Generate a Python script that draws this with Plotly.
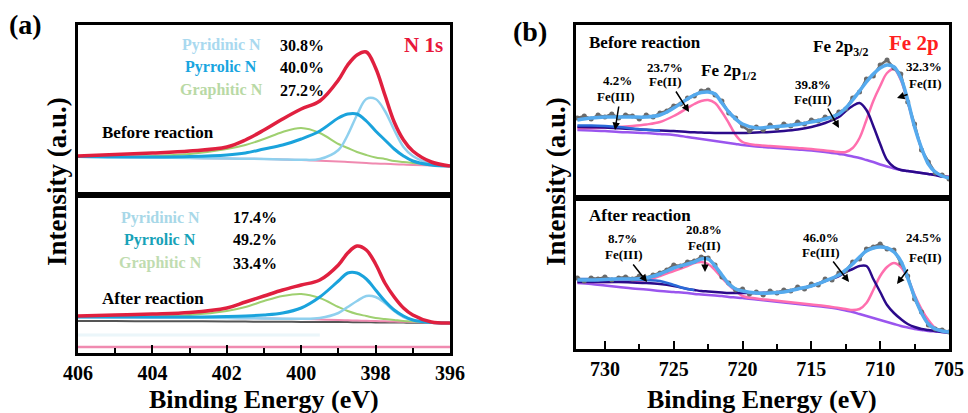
import plotly.graph_objects as go

# ---------------- data : panel (a) N 1s ----------------
e_n = [406, 405, 404, 403, 402, 401.5, 401, 400.5, 400, 399.5, 399, 398.75,
       398.5, 398.25, 398, 397.75, 397.5, 397.25, 397, 396.5, 396]

n_bef_env = [39, 40.5, 42, 44, 48, 55, 65, 76, 86, 94, 115, 130, 140, 143, 127,
             100, 73, 55, 44, 33, 29]
n_bef_bg = [38.5, 38, 37.5, 37, 36.5, 36.3, 36, 35.5, 35, 34.3, 33.5, 33, 32.5,
            32, 31.5, 31.2, 30.8, 30.4, 30, 29.5, 29]
n_bef_grap = [38.5, 38.5, 39, 41, 46, 50, 56, 63, 67, 62, 51, 47, 43, 40, 37.5,
              36, 34, 33, 32, 30, 29]
n_bef_pyrr = [38.5, 38, 38, 38.5, 40, 42, 46, 50, 56, 64, 77, 81, 81, 74, 64, 55,
              46, 39, 34, 30, 29]
n_bef_pyrid = [38.5, 38, 37.5, 37, 36.5, 36.3, 36, 35.5, 35.2, 36, 45, 60, 80, 96,
               96, 84, 65, 48, 39, 31, 29]

n_aft_env = [37, 38, 39, 40.5, 45, 51, 57, 63, 68, 73, 88, 100, 107, 103, 89, 70,
             56, 45, 38, 31, 30]
n_aft_bg = [36, 35.8, 35.5, 35.3, 35, 34.8, 34.5, 34.3, 34, 33.5, 33, 32.7, 32.5,
            32.2, 32, 31.7, 31.5, 31.2, 31, 30.5, 30]
n_aft_grap = [36, 36, 36.5, 38, 42, 46, 52, 57, 59, 55, 46, 42, 39, 37, 35, 34, 33,
              32, 31.5, 30.5, 30]
n_aft_pyrr = [36, 36, 36, 36, 36.5, 37, 38, 40, 45, 56, 72, 80, 80, 74, 63, 52, 43,
              37, 33, 30.5, 30]
n_aft_pyrid = [36, 35.8, 35.5, 35.3, 35, 34.8, 34.5, 34.3, 34.2, 35, 40, 46, 52,
               57, 56, 50, 42, 36, 33, 30.5, 30]
n_aft_gray = [32, 31.9, 31.8, 31.7, 31.5, 31.4, 31.3, 31.2, 31.1, 31, 31, 30.9,
              30.8, 30.7, 30.6, 30.5, 30.5, 30.4, 30.3, 30.1, 30]
n_aft_base = [6] * len(e_n)
n_aft_faint = [18] * 10

n_labels = ["Pyridinic N", "Pyrrolic N", "Graphitic N"]
n_bef_pct = ["30.8%", "40.0%", "27.2%"]
n_aft_pct = ["17.4%", "49.2%", "33.4%"]

# ---------------- data : panel (b) Fe 2p ----------------
e_fe = [732, 731, 730, 729, 728, 727, 726, 725, 724, 723.5, 723, 722.5, 722,
        721.5, 721, 720.5, 720, 719, 718, 717, 716, 715, 714, 713, 712.5, 712,
        711.5, 711, 710.5, 710, 709.5, 709, 708.5, 708, 707.5, 707, 706.5, 706,
        705.5, 705]

fe_bef_env = [78, 80, 81, 81, 81, 81, 83, 90, 99, 103, 105.5, 106, 104, 95, 86,
              79, 74, 70, 71, 72, 73.5, 76, 79, 84, 90, 98, 107, 116, 124, 130,
              133, 131, 120, 98, 71, 50, 34, 26, 22, 20]
fe_bef_bg = [68, 67.5, 67, 66, 65.5, 65, 64, 63, 61, 60, 59, 58, 57, 56, 55, 54,
             53, 51.5, 50.5, 49.5, 48.5, 47.5, 46, 44, 43, 41.5, 40, 38, 36, 33.5,
             31.5, 29.5, 28, 27, 26, 25, 24, 23, 21.5, 21]
fe_bef_fe2 = [70, 70, 70.5, 71, 72, 73.5, 76, 82, 90, 94, 97, 98, 95, 86, 75, 63,
              56, 53, 52, 51, 50, 49, 47.5, 46, 46, 50, 60, 78, 97, 112, 125, 129,
              118, 96, 71, 50, 35, 26, 22, 21]
fe_bef_fe3 = [71, 70.7, 70.5, 69.7, 69, 68.2, 67.5, 67, 66, 65.7, 65.5, 65.2, 65,
              65, 65, 65, 65, 65.5, 66, 67, 68.5, 71, 75, 81, 87, 92, 95, 88, 72,
              54, 38, 31, 28, 27, 26, 25, 24, 23, 21.5, 21]
fe_bef_fe3b = [72.5, 72.5, 72, 71, 69.5, 68.2, 67.5]
fe_bef_raw_e = [732 - 0.5 * i for i in range(55)]
fe_bef_raw = [80, 82, 79, 83, 81, 84, 80, 83, 82, 79, 83, 81, 85, 87, 92, 94, 100,
              102, 107, 108, 103, 97, 85, 80, 72, 67, 71, 68, 73, 70, 74, 72, 76,
              74, 78, 77, 81, 80, 86, 89, 100, 106, 119, 122, 133, 138, 130, 124,
              96, 74, 48, 36, 25, 23, 19]

fe_aft_env = [69, 69, 69.5, 70, 70, 71, 75, 81, 85, 87, 90, 90, 83, 74, 65, 60,
              58, 56, 56, 57, 60, 63, 68, 74, 79, 85, 92, 98, 101, 102, 101, 97,
              88, 71, 52, 36, 25, 20, 18, 17]
fe_aft_bg = [66, 65, 63.5, 62, 60.5, 59.5, 58, 57, 56, 55, 54.5, 54, 53.5, 53, 52,
             51.5, 51, 49.5, 48, 46.5, 45, 43.5, 42, 40, 38.5, 37, 35, 33, 31, 29,
             27, 25, 23, 21.5, 20, 19, 18, 17.5, 17, 16.5]
fe_aft_fe2 = [67, 67, 67, 67.5, 68, 69, 73, 78, 83, 86, 87, 85, 79, 71, 64, 58,
              53, 50.5, 49, 47.5, 46, 44.5, 43, 41, 40, 39, 40, 46, 59, 73, 82, 86,
              82, 71, 54, 40, 29, 21, 18, 17]
fe_aft_fe3 = [67, 67, 67, 67, 66.5, 66, 65, 63, 60, 59, 58, 57.5, 57, 56.5, 56,
              56, 56, 56, 56.5, 57.5, 60, 63, 68, 73, 77, 80, 83, 83, 70, 57, 44,
              36, 30, 25, 22, 20, 19, 18, 17, 16.5]
fe_aft_fe3b = [70, 70, 70, 70, 69.5, 69, 68, 64, 60, 59]
fe_aft_raw_e = [732 - 0.5 * i for i in range(55)]
fe_aft_raw = [71, 68, 71, 70, 72, 69, 71, 72, 70, 73, 71, 74, 76, 79, 84, 83, 87,
              88, 92, 91, 84, 72, 66, 59, 60, 55, 57, 54, 58, 56, 59, 58, 62, 60,
              65, 64, 70, 69, 76, 78, 87, 90, 100, 102, 105, 100, 99, 86, 73, 50,
              37, 24, 20, 19, 17]

n_ticks = [406, 404, 402, 400, 398, 396]
fe_ticks = [730, 725, 720, 715, 710, 705]

# ---------------- figure ----------------
W, H = 968, 413
def px(x):
    return x / W
def py(y):
    return 1 - y / H

SERIF = "Liberation Serif"
fig = go.Figure()

def line(x, y, color, width, xa, ya, opacity=1.0):
    fig.add_trace(go.Scatter(x=x, y=y, mode="lines", xaxis=xa, yaxis=ya,
                             line=dict(color=color, width=width, shape="spline", smoothing=1.0),
                             opacity=opacity, showlegend=False, hoverinfo="skip"))

C_RED = "#e0203f"; C_PYRID = "#8fd0ee"; C_PYRR = "#1aa3dc"; C_GRAP = "#9fd070"; C_BGP = "#f08ab0"
# (a) top
line(e_n, n_bef_bg, C_BGP, 2, "x", "y")
line(e_n, n_bef_grap, C_GRAP, 2, "x", "y")
line(e_n, n_bef_pyrid, C_PYRID, 2.5, "x", "y")
line(e_n, n_bef_pyrr, C_PYRR, 3, "x", "y")
line(e_n, n_bef_env, C_RED, 3.5, "x", "y")
# (a) bottom
line(e_n, n_aft_base, C_BGP, 2.5, "x2", "y2")
line(e_n[:len(n_aft_faint)], n_aft_faint, "#d8eef6", 3, "x2", "y2", opacity=0.5)
line(e_n, n_aft_gray, "#555555", 2, "x2", "y2")
line(e_n, n_aft_bg, C_BGP, 2, "x2", "y2")
line(e_n, n_aft_grap, C_GRAP, 2, "x2", "y2")
line(e_n, n_aft_pyrid, C_PYRID, 2.5, "x2", "y2")
line(e_n, n_aft_pyrr, C_PYRR, 3, "x2", "y2")
line(e_n, n_aft_env, C_RED, 3.5, "x2", "y2")

C_ENV = "#55aaee"; C_FE2 = "#ff6fae"; C_FE3 = "#2b0a8a"; C_BGV = "#9a55ee"; C_FE3B = "#2a6ad8"; C_RAW = "#6a6a6a"
for (env, bg, f2, f3, f3b, re, rv, xa, ya) in [
        (fe_bef_env, fe_bef_bg, fe_bef_fe2, fe_bef_fe3, fe_bef_fe3b, fe_bef_raw_e, fe_bef_raw, "x3", "y3"),
        (fe_aft_env, fe_aft_bg, fe_aft_fe2, fe_aft_fe3, fe_aft_fe3b, fe_aft_raw_e, fe_aft_raw, "x4", "y4")]:
    line(e_fe, bg, C_BGV, 2.5, xa, ya)
    line(e_fe, f2, C_FE2, 2.5, xa, ya)
    line(e_fe, f3, C_FE3, 2.5, xa, ya)
    line(e_fe[:len(f3b)], f3b, C_FE3B, 2.5, xa, ya)
    fig.add_trace(go.Scatter(x=re, y=rv, mode="lines+markers", xaxis=xa, yaxis=ya,
                             line=dict(color=C_RAW, width=2.5),
                             marker=dict(color=C_RAW, size=5),
                             showlegend=False, hoverinfo="skip"))
    line(e_fe, env, C_ENV, 3.5, xa, ya)

# ---------------- axes ----------------
frame = dict(showline=True, mirror=True, linecolor="black", linewidth=3,
             showgrid=False, zeroline=False, automargin=False)
tickfont = dict(family=SERIF, size=20, color="black")

xa_dom = [px(78), px(450)]
xb_dom = [px(576), px(949)]
layout = dict(
    xaxis=dict(domain=xa_dom, range=[406, 396], anchor="y", showticklabels=False, ticks="", **frame),
    yaxis=dict(domain=[py(195), py(25)], range=[0, 170], anchor="x", showticklabels=False, ticks="", **frame),
    xaxis2=dict(domain=xa_dom, range=[406, 396], anchor="y2", tickvals=n_ticks,
                ticktext=["<b>%d</b>" % v for v in n_ticks], ticks="inside", ticklen=8, tickwidth=2,
                tickcolor="black", tickfont=tickfont,
                minor=dict(dtick=1, ticks="inside", ticklen=5, tickwidth=2, tickcolor="black"),
                **frame),
    yaxis2=dict(domain=[py(353), py(195)], range=[0, 158], anchor="x2", showticklabels=False, ticks="", **frame),
    xaxis3=dict(domain=xb_dom, range=[732.1, 705], anchor="y3", showticklabels=False, ticks="", **frame),
    yaxis3=dict(domain=[py(198), py(25)], range=[0, 173], anchor="x3", showticklabels=False, ticks="", **frame),
    xaxis4=dict(domain=xb_dom, range=[732.1, 705], anchor="y4", tickvals=fe_ticks,
                ticktext=["<b>%d</b>" % v for v in fe_ticks], ticks="inside", ticklen=8, tickwidth=2,
                tickcolor="black", tickfont=tickfont,
                minor=dict(dtick=2.5, ticks="inside", ticklen=5, tickwidth=2, tickcolor="black"),
                **frame),
    yaxis4=dict(domain=[py(349), py(198)], range=[0, 151], anchor="x4", showticklabels=False, ticks="", **frame),
)
fig.update_layout(**layout)

ann = []
def text(x, y, s, size=15, color="black", xanchor="center", angle=0):
    ann.append(dict(x=px(x), y=py(y), xref="paper", yref="paper", text="<b>" + s + "</b>",
                    showarrow=False, xanchor=xanchor, yanchor="middle", textangle=angle,
                    font=dict(family=SERIF, size=size, color=color)))

def arrow(hx, hy, tx, ty):
    ann.append(dict(x=px(hx), y=py(hy), xref="paper", yref="paper", text="", showarrow=True,
                    ax=tx - hx, ay=ty - hy, arrowhead=2, arrowsize=1, arrowwidth=1.5,
                    arrowcolor="black"))

# panel labels and titles
text(25, 25, "(a)", size=28)
text(530, 31, "(b)", size=28)
text(264, 399, "Binding Energy (eV)", size=26)
text(762, 399, "Binding Energy (eV)", size=26)
text(57, 182, "Intensity (a.u.)", size=27, angle=-90)
text(556, 182, "Intensity (a.u.)", size=27, angle=-90)

# (a)
lab_cols_top = ["#a9d9ef", "#18a5e0", "#b9d9a5"]
lab_cols_bot = ["#a8d8e8", "#17a2b8", "#c0dcb0"]
for i, yy in enumerate([45, 67, 90]):
    text(221, yy, n_labels[i], size=16, color=lab_cols_top[i])
    text(302, yy, n_bef_pct[i], size=16)
for i, yy in enumerate([218, 240, 263]):
    text(160, yy, n_labels[i], size=16, color=lab_cols_bot[i])
    text(255, yy, n_aft_pct[i], size=16)
text(423, 45, "N 1s", size=21, color="#e8173a")
text(100, 132, "Before reaction", size=17, xanchor="left")
text(100, 298, "After reaction", size=17, xanchor="left")

# (b) top
text(587, 43, "Before reaction", size=17, xanchor="left")
text(914, 43, "Fe 2p", size=21, color="#ff2020")
text(728, 72, "Fe 2p<sub>1/2</sub>", size=17)
text(840, 48, "Fe 2p<sub>3/2</sub>", size=17)
text(617, 80, "4.2%", size=13); text(616, 96, "Fe(III)", size=13)
text(665, 67, "23.7%", size=13); text(665, 82, "Fe(II)", size=13)
text(813, 84, "39.8%", size=13); text(813, 100, "Fe(III)", size=13)
text(924, 66, "32.3%", size=13); text(925, 83, "Fe(II)", size=13)
arrow(615, 130, 619, 105)
arrow(689, 112, 675, 90)
arrow(839, 128, 827, 107)
arrow(897, 98, 909, 94)
# (b) bottom
text(587, 215, "After reaction", size=17, xanchor="left")
text(622, 238, "8.7%", size=13); text(624, 254, "Fe(III)", size=13)
text(704, 229, "20.8%", size=13); text(704, 245, "Fe(II)", size=13)
text(821, 237, "46.0%", size=13); text(821, 253, "Fe(III)", size=13)
text(924, 237, "24.5%", size=13); text(925, 257, "Fe(II)", size=13)
arrow(647, 282, 632, 263)
arrow(705, 272, 705, 255)
arrow(849, 282, 832, 260)
arrow(897, 284, 909, 268)

fig.update_layout(annotations=ann, width=W, height=H, margin=dict(l=0, r=0, t=0, b=0),
                  paper_bgcolor="white", plot_bgcolor="white", showlegend=False)
fig.write_html("out.html")
